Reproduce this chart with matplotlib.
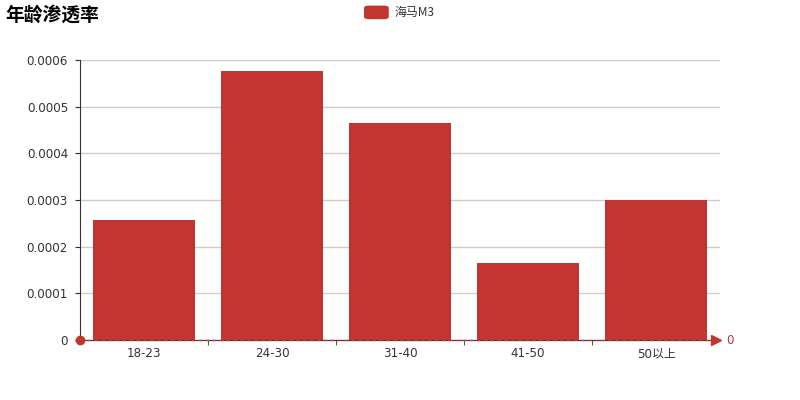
import matplotlib.pyplot as plt
from matplotlib.patches import FancyBboxPatch
from matplotlib.transforms import blended_transform_factory

plt.rcParams['font.family'] = ['DejaVu Sans', 'Noto Sans CJK SC']

# data
categories = ["18-23", "24-30", "31-40", "41-50", "50以上"]
values = [0.0002564, 0.0005757, 0.000465, 0.0001643, 0.0003]
y_ticks = [0, 0.0001, 0.0002, 0.0003, 0.0004, 0.0005, 0.0006]
series_name = "海马M3"
title = "年龄渗透率"

bar_color = "#c23531"
text_color = "#333333"

fig = plt.figure(figsize=(8, 4), dpi=100)
ax = fig.add_axes([0.1, 0.15, 0.8, 0.7])

x = list(range(len(categories)))
ax.bar(x, values, width=0.8, color=bar_color, zorder=2)

ax.set_xlim(-0.5, len(categories) - 0.5)
ax.set_ylim(0, 0.0006)
ax.set_yticks(y_ticks)
ax.set_yticklabels([("%.4f" % v) if v else "0" for v in y_ticks])
ax.yaxis.grid(True, color="#cccccc", linewidth=1, zorder=0)

# category labels centered, ticks on the boundaries
ax.set_xticks(x)
ax.set_xticklabels(categories)
ax.tick_params(axis='x', which='major', length=0, pad=5, labelsize=8.6, labelcolor=text_color)
ax.set_xticks([i + 0.5 for i in x[:-1]], minor=True)
ax.tick_params(axis='x', which='minor', length=3.6, color=text_color, direction='out')
ax.tick_params(axis='y', length=3.6, color=text_color, labelsize=8.6, labelcolor=text_color, pad=5)

for side in ['top', 'right']:
    ax.spines[side].set_visible(False)
ax.spines['left'].set_color(text_color)
ax.spines['bottom'].set_color(text_color)

# markLine at 0: dashed line, dot at start, arrow at end
trans = blended_transform_factory(ax.transAxes, ax.transData)
ax.plot([0, 0.995], [0, 0], transform=trans, color=bar_color, linestyle=(0, (3, 2)),
        linewidth=1, zorder=4, clip_on=False)
ax.plot([0], [0], transform=trans, marker='o', markersize=6, color=bar_color, zorder=5, clip_on=False)
ax.plot([0.993], [0], transform=trans, marker='>', markersize=7, color=bar_color, zorder=5, clip_on=False)
ax.text(1.01, 0, "0", transform=trans, color=bar_color, fontsize=8.6, va='center', ha='left')

# title and legend
fig.text(0.007, 0.963, title, fontsize=13.5, fontweight='bold', color='black',
         family=['Noto Sans CJK SC', 'DejaVu Sans'], va='center', ha='left')
leg = FancyBboxPatch((0.455, 0.952), 0.031, 0.034, boxstyle="round,pad=0,rounding_size=0.006",
                     transform=fig.transFigure, facecolor=bar_color, edgecolor='none')
fig.patches.append(leg)
fig.text(0.493, 0.968, series_name, fontsize=8.6, color=text_color,
         family=['Noto Sans CJK SC', 'DejaVu Sans'], va='center', ha='left')

fig.savefig("out.png", dpi=100)
